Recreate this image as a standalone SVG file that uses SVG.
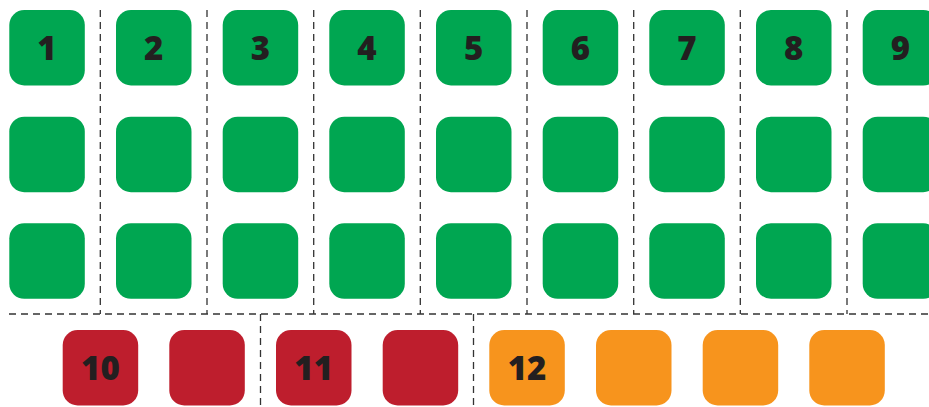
<svg xmlns="http://www.w3.org/2000/svg" width="929" height="407" viewBox="0 0 929 407">
<style>
.g{fill:#00A651}.r{fill:#BE1E2D}.o{fill:#F7941D}
.t{font-family:"Open Sans","Liberation Sans",sans-serif;font-weight:800;font-size:33px;fill:#231F20;text-anchor:middle}
.d{stroke:#333;stroke-width:1.3;stroke-dasharray:7 5;fill:none}
</style>
<defs>
<rect id="sq" width="75.5" height="75.5" rx="15" ry="15"/>
</defs>
<rect width="929" height="407" fill="#fff"/>
<g id="connectors">
<path class="d" d="M100.3 10V314M207 10V314M313.7 10V314M420.3 10V314M527 10V314M633.7 10V314M740.3 10V314M847 10V314"/>
<path class="d" d="M9 314H929"/>
<path class="d" d="M260.5 314V407M473.5 314V407"/>
</g>
<g id="n1"><use href="#sq" class="g" x="9.3" y="10"/><text class="t" x="47" y="59.5">1</text></g>
<g id="n2"><use href="#sq" class="g" x="116" y="10"/><text class="t" x="153.7" y="59.5">2</text></g>
<g id="n3"><use href="#sq" class="g" x="222.7" y="10"/><text class="t" x="260.4" y="59.5">3</text></g>
<g id="n4"><use href="#sq" class="g" x="329.3" y="10"/><text class="t" x="367" y="59.5">4</text></g>
<g id="n5"><use href="#sq" class="g" x="436" y="10"/><text class="t" x="473.7" y="59.5">5</text></g>
<g id="n6"><use href="#sq" class="g" x="542.7" y="10"/><text class="t" x="580.4" y="59.5">6</text></g>
<g id="n7"><use href="#sq" class="g" x="649.3" y="10"/><text class="t" x="687" y="59.5">7</text></g>
<g id="n8"><use href="#sq" class="g" x="756" y="10"/><text class="t" x="793.7" y="59.5">8</text></g>
<g id="n9"><use href="#sq" class="g" x="862.7" y="10"/><text class="t" x="900.4" y="59.5">9</text></g>
<g id="row2">
<use href="#sq" class="g" x="9.3" y="116.7"/><use href="#sq" class="g" x="116" y="116.7"/><use href="#sq" class="g" x="222.7" y="116.7"/><use href="#sq" class="g" x="329.3" y="116.7"/><use href="#sq" class="g" x="436" y="116.7"/><use href="#sq" class="g" x="542.7" y="116.7"/><use href="#sq" class="g" x="649.3" y="116.7"/><use href="#sq" class="g" x="756" y="116.7"/><use href="#sq" class="g" x="862.7" y="116.7"/>
</g>
<g id="row3">
<use href="#sq" class="g" x="9.3" y="223.3"/><use href="#sq" class="g" x="116" y="223.3"/><use href="#sq" class="g" x="222.7" y="223.3"/><use href="#sq" class="g" x="329.3" y="223.3"/><use href="#sq" class="g" x="436" y="223.3"/><use href="#sq" class="g" x="542.7" y="223.3"/><use href="#sq" class="g" x="649.3" y="223.3"/><use href="#sq" class="g" x="756" y="223.3"/><use href="#sq" class="g" x="862.7" y="223.3"/>
</g>
<g id="n10"><use href="#sq" class="r" x="62.7" y="330"/><text class="t" x="100.4" y="379.5">10</text></g>
<g id="r2"><use href="#sq" class="r" x="169.3" y="330"/></g>
<g id="n11"><use href="#sq" class="r" x="276" y="330"/><text class="t" x="313.7" y="379.5">11</text></g>
<g id="r4"><use href="#sq" class="r" x="382.7" y="330"/></g>
<g id="n12"><use href="#sq" class="o" x="489.3" y="330"/><text class="t" x="527" y="379.5">12</text></g>
<g id="o2"><use href="#sq" class="o" x="596" y="330"/></g>
<g id="o3"><use href="#sq" class="o" x="702.7" y="330"/></g>
<g id="o4"><use href="#sq" class="o" x="809.3" y="330"/></g>
</svg>
